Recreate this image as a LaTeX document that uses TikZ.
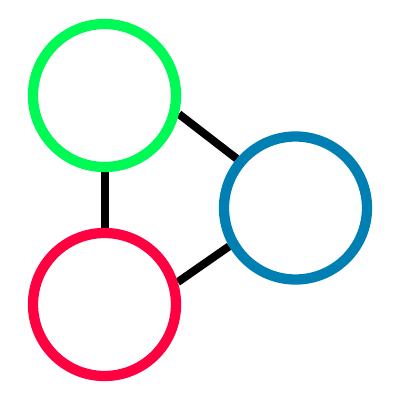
\documentclass[tikz,border=0pt]{standalone}
\definecolor{cgreen}{RGB}{0,250,85}
\definecolor{cred}{RGB}{255,0,64}
\definecolor{cblue}{RGB}{0,128,178}
\pgfdeclarelayer{background}
\pgfsetlayers{background,main}
\begin{document}
\begin{tikzpicture}[x=1pt,y=-1pt,
  ring/.style={circle,draw,line width=10.3pt,minimum size=143pt,inner sep=0pt,fill=white},
  link/.style={line width=8pt,black}]
\useasboundingbox (0,0) rectangle (400,400);
\node[ring,draw=cgreen] (g) at (104.5,95.5) {};
\node[ring,draw=cblue] (b) at (295.5,208) {};
\node[ring,draw=cred] (r) at (104.5,304.5) {};
\begin{pgfonlayer}{background}
\draw[link] (g.south) -- (r.north);
\draw[link] (g.-14) -- (b.140);
\draw[link] (r.17) -- (b.210);
\end{pgfonlayer}
\end{tikzpicture}
\end{document}
